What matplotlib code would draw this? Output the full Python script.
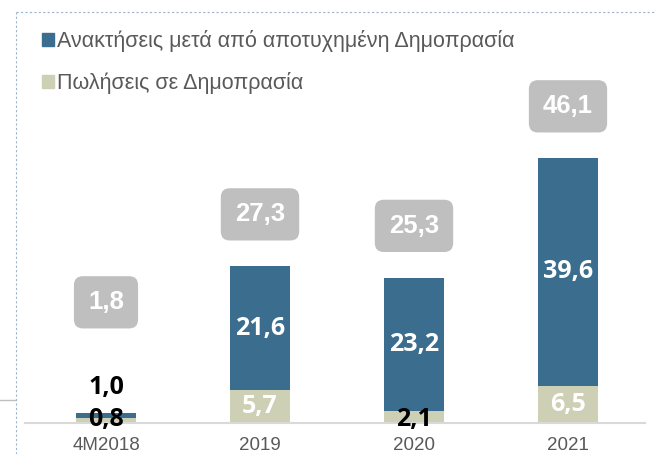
import matplotlib.pyplot as plt
from matplotlib.lines import Line2D
from matplotlib.patches import Patch

# values (billions), Greek decimal comma in labels
periods = ['4M2018', '2019', '2020', '2021']
auction_sales = [0.8, 5.7, 2.1, 6.5]
post_auction = [1.0, 21.6, 23.2, 39.6]
totals = [1.8, 27.3, 25.3, 46.1]

blue = '#3A6D8E'
beige = '#CDD0B5'
grey_box = '#BFBFBF'

def fmt(v):
    return ('%.1f' % v).replace('.', ',')

fig = plt.figure(figsize=(6.56, 4.54), dpi=100)
ax = fig.add_axes([25 / 656, 31 / 454, 620 / 656, 423 / 454])

x = list(range(len(periods)))
w = 0.39
ax.bar(x, auction_sales, width=w, color=beige, zorder=2)
ax.bar(x, post_auction, width=w, bottom=auction_sales, color=blue, zorder=2)

ax.set_xlim(-0.526, 3.5)
ax.set_ylim(0, 73.6)

seg_font = dict(family='Open Sans', fontweight='bold', fontsize=18)
box_font = dict(family='Liberation Sans', fontweight='bold', fontsize=18.5)

for i in x:
    s, p, t = auction_sales[i], post_auction[i], totals[i]
    # segment labels: inside when the segment is tall enough
    if p > 5:
        ax.text(i, s + p / 2, fmt(p), ha='center', va='center', color='white', **seg_font)
    else:
        ax.text(i, s + p + 4.3, fmt(p), ha='center', va='center', color='black', **seg_font)
    if s > 4:
        ax.text(i, s / 2, fmt(s), ha='center', va='center', color='white', **seg_font)
    else:
        ax.text(i, 0.6, fmt(s), ha='center', va='center', color='black', zorder=4,
                clip_on=False, **seg_font)
    # total in rounded grey box
    ty = max(t, 12) + 9
    ax.text(i, ty, fmt(t), ha='center', va='center', color='white',
            bbox=dict(boxstyle='round,pad=0.55,rounding_size=0.35', fc=grey_box, ec='none'),
            **box_font)

for sp in ['top', 'right', 'left']:
    ax.spines[sp].set_visible(False)
ax.spines['bottom'].set_color('#D9D9D9')
ax.spines['bottom'].set_linewidth(1.5)
ax.set_yticks([])
ax.set_xticks(x)
ax.set_xticklabels(periods, family='Liberation Sans', fontsize=13.5, color='#595959')
ax.tick_params(axis='x', length=0, pad=10)

handles = [Patch(color=blue), Patch(color=beige)]
fig.legend(handles, ['Ανακτήσεις μετά από αποτυχημένη Δημοπρασία', 'Πωλήσεις σε Δημοπρασία'],
           loc='upper left', bbox_to_anchor=(31 / 656, 1 - 19 / 454), frameon=False,
           prop=dict(family='Liberation Sans', size=15.5), labelcolor='#595959',
           handlelength=0.55, handleheight=0.55, handletextpad=0.15, labelspacing=0.95,
           borderpad=0)

# slide frame remnants
fig.add_artist(Line2D([16 / 656, 16 / 656], [0, 1 - 12 / 454], color='#9DB3C8', lw=0.8, ls=(0, (2, 2))))
fig.add_artist(Line2D([16 / 656, 1], [1 - 12 / 454, 1 - 12 / 454], color='#9DB3C8', lw=0.8, ls=(0, (2, 2))))
fig.add_artist(Line2D([0, 15 / 656], [1 - 400 / 454, 1 - 400 / 454], color='#BFBFBF', lw=1))

fig.savefig('out.png', dpi=100)
